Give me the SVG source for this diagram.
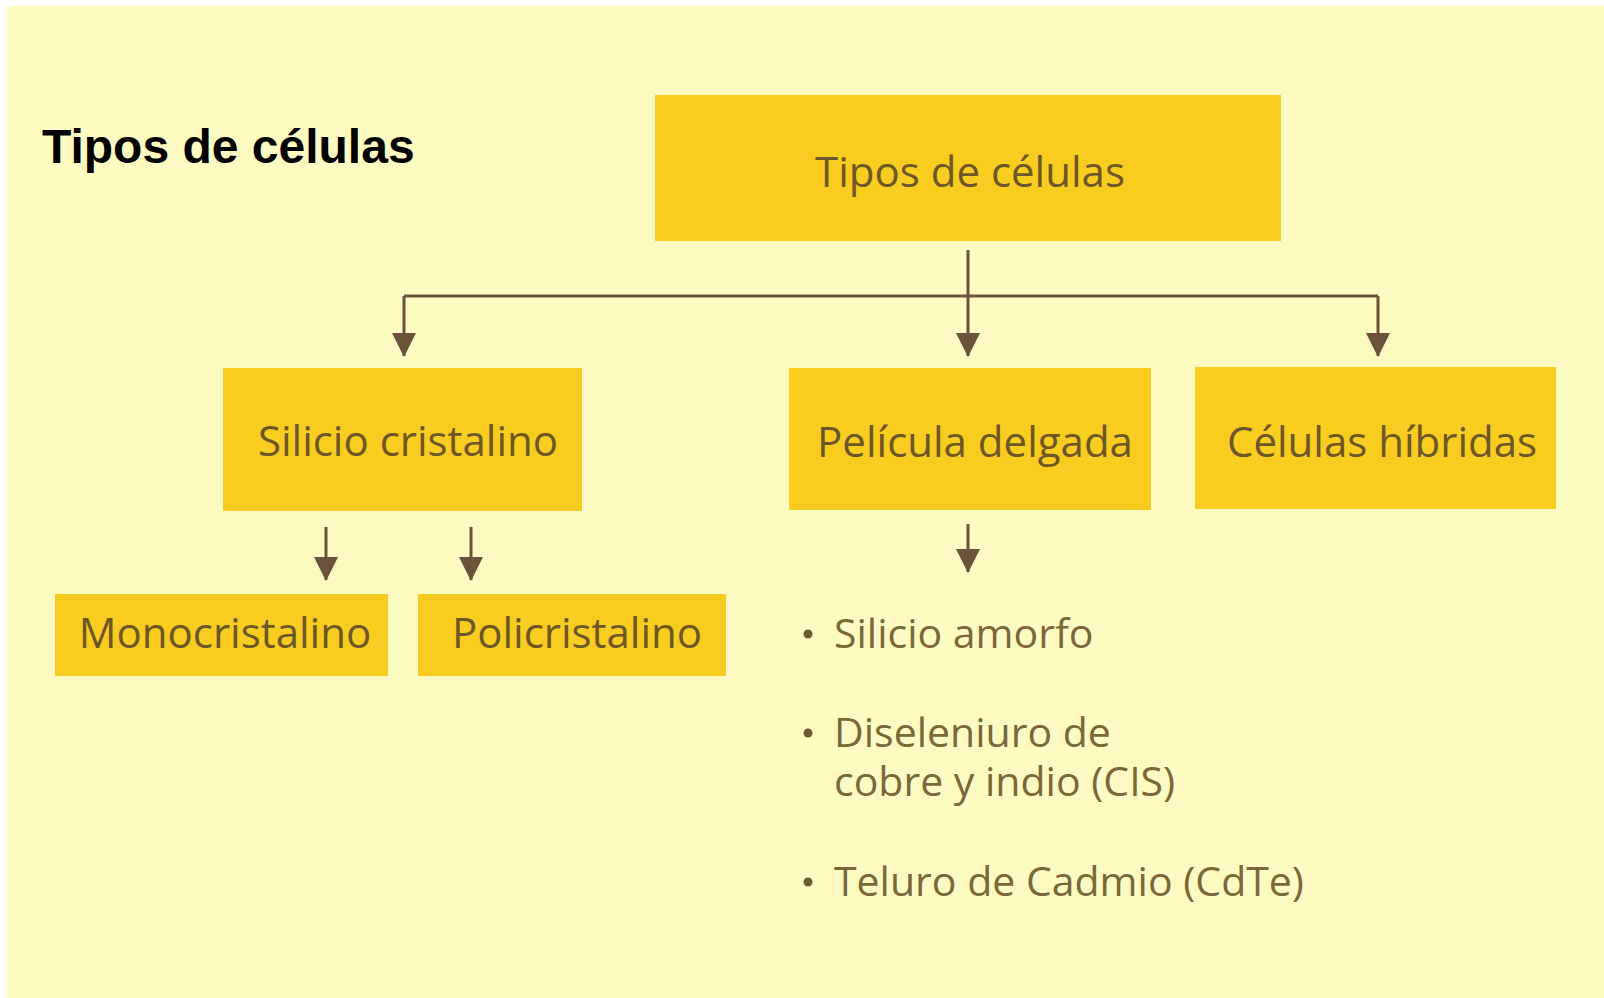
<svg xmlns="http://www.w3.org/2000/svg" width="1604" height="998" viewBox="0 0 1604 998">
<defs>
<style>
.box{fill:#F9CC20;}
.lbl{font-family:"Open Sans","Noto Sans",sans-serif;font-size:42px;fill:#6E5726;text-anchor:middle;}
.bul{font-family:"Open Sans","Noto Sans",sans-serif;font-size:41px;fill:#7A6838;}
.dot{fill:#6E5A30;}
.ln{stroke:#6B5238;stroke-width:3;fill:none;}
.title{font-family:"Liberation Sans",Arial,sans-serif;font-weight:bold;font-size:48px;fill:#000;}
</style>
<marker id="ah" viewBox="0 0 24 24" markerWidth="24" markerHeight="24" refX="23" refY="12" orient="auto" markerUnits="userSpaceOnUse">
<path d="M0,0 L24,12 L0,24 Z" fill="#6B5238"/>
</marker>
</defs>
<rect x="0" y="0" width="1604" height="998" fill="#FFFFFF"/>
<rect x="7" y="6" width="1597" height="992" fill="#FEFBC2"/>
<text class="title" x="42" y="163">Tipos de células</text>

<g id="connectors">
<line class="ln" x1="968" y1="250" x2="968" y2="296"/>
<line class="ln" x1="404" y1="296" x2="1378" y2="296"/>
<path class="ln" d="M968,296 L968,356" marker-end="url(#ah)"/>
<path class="ln" d="M404,296 L404,356" marker-end="url(#ah)"/>
<path class="ln" d="M1378,296 L1378,356" marker-end="url(#ah)"/>
<path class="ln" d="M326,527 L326,580" marker-end="url(#ah)"/>
<path class="ln" d="M471,527 L471,580" marker-end="url(#ah)"/>
<path class="ln" d="M968,524 L968,572" marker-end="url(#ah)"/>
</g>

<g id="n-tipos">
<rect class="box" x="655" y="95" width="626" height="146"/>
<text class="lbl" x="970" y="187">Tipos de células</text>
</g>
<g id="n-silicio">
<rect class="box" x="223" y="368" width="359" height="143"/>
<text class="lbl" x="408" y="456">Silicio cristalino</text>
</g>
<g id="n-pelicula">
<rect class="box" x="789" y="368" width="362" height="142"/>
<text class="lbl" x="975" y="457">Película delgada</text>
</g>
<g id="n-hibridas">
<rect class="box" x="1195" y="367" width="361" height="142"/>
<text class="lbl" x="1382" y="457">Células híbridas</text>
</g>
<g id="n-mono">
<rect class="box" x="55" y="594" width="333" height="82"/>
<text class="lbl" x="225" y="648">Monocristalino</text>
</g>
<g id="n-poli">
<rect class="box" x="418" y="594" width="308" height="82"/>
<text class="lbl" x="577" y="648">Policristalino</text>
</g>
<g id="n-lista">
<circle class="dot" cx="808" cy="634" r="4.5"/>
<text class="bul" x="834" y="648">Silicio amorfo</text>
<circle class="dot" cx="808" cy="733" r="4.5"/>
<text class="bul" x="834" y="747">Diseleniuro de<tspan x="834" dy="49">cobre y indio (CIS)</tspan></text>
<circle class="dot" cx="808" cy="882" r="4.5"/>
<text class="bul" x="834" y="896">Teluro de Cadmio (CdTe)</text>
</g>
</svg>
